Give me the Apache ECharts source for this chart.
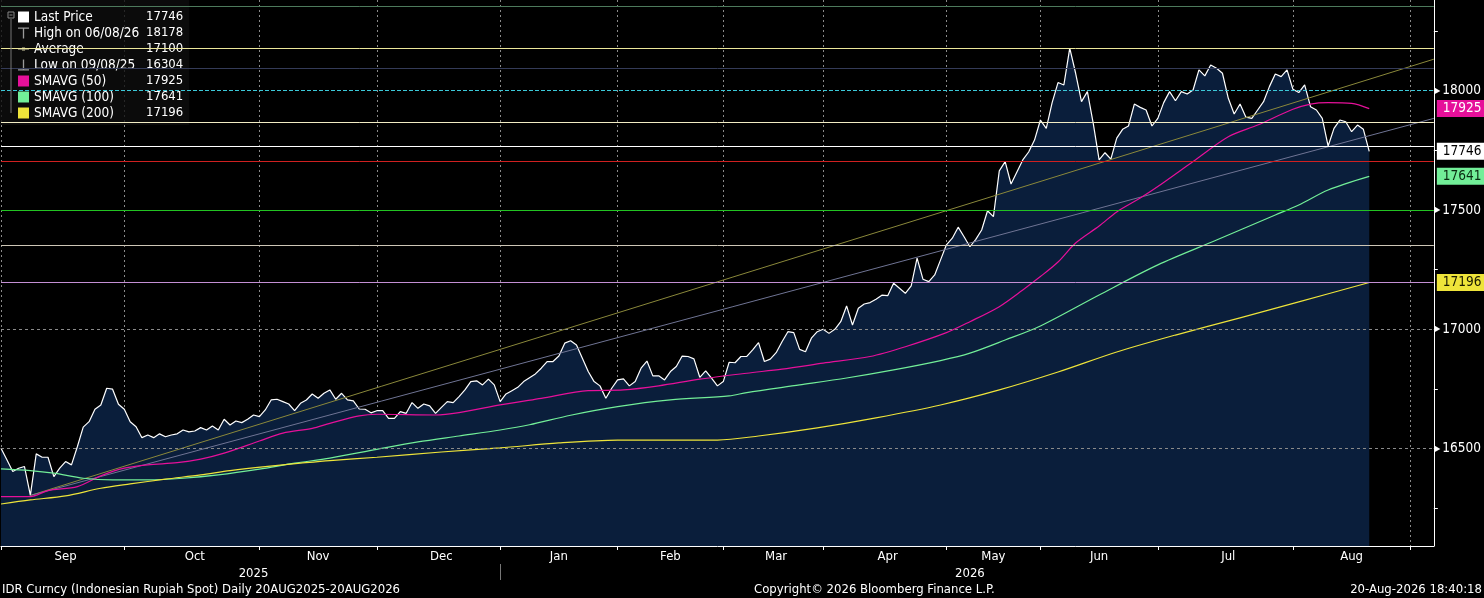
<!DOCTYPE html>
<html>
<head>
<meta charset="utf-8">
<title>IDR Curncy</title>
<script src="https://cdn.jsdelivr.net/npm/echarts@6/dist/echarts.min.js"></script>
<style>
  html, body { margin: 0; padding: 0; background: #000; }
  #chart { width: 1484px; height: 598px; }
</style>
</head>
<body>
<div id="chart"></div>
<script>
// trading calendar: weekdays from 29 Aug 2025 to 4 Sep 2026 minus these holidays
var holidays = ['2025-09-05', '2025-12-25', '2025-12-26', '2026-01-01', '2026-01-16',
  '2026-02-16', '2026-02-17', '2026-03-18', '2026-03-19', '2026-03-20', '2026-03-23',
  '2026-03-24', '2026-04-03', '2026-05-01', '2026-05-14', '2026-05-15', '2026-05-27',
  '2026-05-28', '2026-06-01', '2026-06-16', '2026-08-17'];
var monthNames = ['Jan', 'Feb', 'Mar', 'Apr', 'May', 'Jun', 'Jul', 'Aug', 'Sep', 'Oct', 'Nov', 'Dec'];

// daily close, one value per trading day from 29 Aug 2025
var lastPrice = [16502, 16453, 16404, 16418, 16425, 16304, 16478, 16464, 16464, 16383,
  16418, 16446, 16432, 16508, 16590, 16613, 16665, 16683, 16753, 16749,
  16686, 16665, 16613, 16592, 16546, 16557, 16546, 16562, 16550, 16557,
  16562, 16578, 16570, 16574, 16588, 16578, 16595, 16578, 16623, 16599,
  16616, 16609, 16623, 16641, 16634, 16662, 16704, 16707, 16697, 16687,
  16659, 16690, 16704, 16729, 16711, 16732, 16746, 16707, 16732, 16704,
  16700, 16666, 16665, 16650, 16659, 16659, 16627, 16627, 16655, 16648,
  16693, 16669, 16687, 16679, 16648, 16673, 16697, 16693, 16718, 16746,
  16781, 16784, 16767, 16791, 16767, 16697, 16729, 16743, 16757, 16781,
  16797, 16813, 16837, 16865, 16865, 16888, 16942, 16952, 16934, 16879,
  16823, 16781, 16763, 16711, 16753, 16788, 16792, 16763, 16781, 16837,
  16867, 16805, 16805, 16788, 16823, 16844, 16888, 16886, 16876, 16799,
  16826, 16795, 16763, 16781, 16862, 16860, 16886, 16887, 16914, 16944,
  16865, 16875, 16902, 16948, 16990, 16986, 16916, 16906, 16963, 16990,
  17000, 16983, 17000, 17032, 17098, 17018, 17088, 17106, 17112, 17126,
  17143, 17141, 17193, 17172, 17151, 17182, 17298, 17210, 17200, 17228,
  17291, 17354, 17382, 17428, 17388, 17346, 17377, 17416, 17497, 17472,
  17664, 17703, 17609, 17659, 17710, 17743, 17793, 17877, 17842, 17950,
  18034, 18024, 18178, 18073, 17954, 17996, 17863, 17710, 17740, 17713,
  17801, 17838, 17852, 17944, 17930, 17919, 17852, 17884, 17950, 17996,
  17958, 17996, 17986, 18003, 18087, 18062, 18108, 18094, 18073, 17968,
  17902, 17944, 17889, 17884, 17919, 17954, 18017, 18070, 18059, 18087,
  18006, 17992, 18024, 17933, 17919, 17884, 17768, 17842, 17877, 17870,
  17828, 17856, 17838, 17746];

// moving averages: [trading day index, value]
var sma50 = [[0, 16299], [5, 16299], [8, 16324], [13, 16341], [17, 16386], [21, 16418],
  [25, 16432], [30, 16441], [34, 16456], [38, 16481], [44, 16532], [48, 16565], [53, 16585],
  [56, 16606], [61, 16637], [64, 16644], [74, 16641], [78, 16651], [85, 16683], [92, 16711],
  [100, 16743], [106, 16746], [112, 16763], [119, 16791], [127, 16816], [133, 16833],
  [140, 16858], [148, 16886], [154, 16927], [161, 16986], [165, 17032], [170, 17095],
  [174, 17165], [177, 17221], [180, 17282], [183, 17362], [187, 17433], [190, 17492],
  [194, 17550], [197, 17598], [203, 17703], [209, 17807], [214, 17856], [220, 17922],
  [223, 17944], [226, 17950], [230, 17947], [233, 17925]];
var sma100 = [[0, 16415], [5, 16408], [9, 16397], [14, 16376], [19, 16369], [25, 16369],
  [31, 16376], [37, 16390], [44, 16414], [50, 16439], [56, 16460], [64, 16497], [71, 16528],
  [78, 16553], [85, 16578], [90, 16600], [97, 16640], [105, 16676], [114, 16704], [124, 16721],
  [127, 16735], [136, 16767], [144, 16796], [152, 16830], [160, 16869], [165, 16900],
  [171, 16955], [177, 17014], [187, 17144], [197, 17270], [207, 17374], [217, 17479],
  [221, 17521], [226, 17584], [233, 17641]];
var sma200 = [[0, 16268], [5, 16285], [11, 16302], [17, 16334], [22, 16352], [28, 16372],
  [34, 16390], [39, 16408], [45, 16425], [51, 16439], [56, 16450], [64, 16464], [75, 16486],
  [85, 16503], [95, 16524], [105, 16536], [122, 16536], [129, 16553], [139, 16587],
  [149, 16629], [160, 16683], [170, 16746], [180, 16821], [190, 16905], [200, 16976],
  [211, 17048], [221, 17115], [233, 17196]];

// trend lines drawn from the low
var trendUpper = [[5, 16304], [244, 18132]];
var trendLower = [[5, 16304], [244, 17884]];

// horizontal levels
var levelValues = [18352, 18178, 18094, 18000, 17868, 17768, 17705, 17500, 17353, 17198, 17000, 16500];
var levelColors = ['#4d7a5c', '#ece79a', '#343b58', '#3cc8d8', '#f2ecc4', '#ffffff', '#d02020',
  '#22c322', '#cdc6b6', '#c48fd4', '#8a8a8a', '#8a8a8a'];
var levelTypes = ['solid', 'solid', 'solid', 'dashed', 'solid', 'solid', 'solid', 'solid',
  'solid', 'solid', [3, 3], [3, 3]];

var yMajorTicks = [16500, 17000, 17500, 18000];
var yMinorTicks = [16250, 16500, 16750, 17000, 17250, 17500, 17750, 18000, 18250];

var legendNames = ['Last Price', 'High on 06/08/26', 'Average', 'Low on 09/08/25',
  'SMAVG (50)', 'SMAVG (100)', 'SMAVG (200)'];
var legendValues = ['17746', '18178', '17100', '16304', '17925', '17641', '17196'];

var FONT = '"DejaVu Sans Condensed", "Liberation Sans Narrow", "DejaVu Sans", sans-serif';
var PINK = '#e6109a';
var GREEN = '#72ee98';
var YELLOW = '#eee43a';

function buildDays() {
  var days = [];
  var d = new Date(Date.UTC(2025, 7, 29));
  var end = Date.UTC(2026, 8, 4);
  while (d.getTime() <= end) {
    var wd = d.getUTCDay();
    var s = d.toISOString().slice(0, 10);
    if (wd !== 0 && wd !== 6 && holidays.indexOf(s) < 0) {
      days.push(s);
    }
    d.setUTCDate(d.getUTCDate() + 1);
  }
  return days;
}

var days = buildDays();

// last trading day of each month -> gridline
var boundary = {};
var boundaryList = [];
days.forEach(function (s, i) {
  if (i === 0 || (i < days.length - 1 && days[i + 1].slice(5, 7) !== s.slice(5, 7))) {
    boundary[i] = true;
    boundaryList.push(i);
  }
});
var monthLabelAt = {};
for (var k = 1; k < boundaryList.length; k++) {
  monthLabelAt[Math.round((boundaryList[k - 1] + boundaryList[k]) / 2)] = true;
}
var yearSep = days.indexOf('2025-12-31');
var yearLabelAt = {};
yearLabelAt[Math.round(yearSep / 2)] = true;
yearLabelAt[Math.round((yearSep + days.length - 1) / 2)] = true;

var legendIcons = {
  'Last Price': 'rect',
  'High on 06/08/26': 'path://M0,0 L10,0 L10,1.2 L5.6,1.2 L5.6,10 L4.4,10 L4.4,1.2 L0,1.2 Z',
  'Average': 'path://M0,4.4 L10,4.4 L10,5.6 L0,5.6 Z M3.6,3.4 L6.4,3.4 L6.4,6.6 L3.6,6.6 Z',
  'Low on 09/08/25': 'path://M4.4,0 L5.6,0 L5.6,8.8 L10,8.8 L10,10 L0,10 L0,8.8 L4.4,8.8 Z',
  'SMAVG (50)': 'rect',
  'SMAVG (100)': 'rect',
  'SMAVG (200)': 'rect'
};
var legendColors = {
  'Last Price': '#ffffff',
  'High on 06/08/26': '#9a9a9a',
  'Average': '#8e8c70',
  'Low on 09/08/25': '#9a9a9a',
  'SMAVG (50)': PINK,
  'SMAVG (100)': GREEN,
  'SMAVG (200)': YELLOW
};

function tag(value, bg, fg) {
  return {
    yAxis: value,
    lineStyle: { color: 'rgba(0,0,0,0)', width: 0 },
    label: {
      show: true,
      position: 'end',
      distance: 3,
      formatter: String(value),
      backgroundColor: bg,
      color: fg,
      fontSize: 13.5,
      fontFamily: FONT,
      padding: [2, 8, 1, 6]
    }
  };
}

var levelLines = levelValues.map(function (v, i) {
  return {
    yAxis: v,
    lineStyle: { color: levelColors[i], type: levelTypes[i], width: 1 }
  };
});
levelLines.push(tag(17746, '#ffffff', '#000000'));

function maSeries(name, data, color, tagValue, tagFg) {
  return {
    name: name,
    type: 'line',
    data: data,
    showSymbol: false,
    smooth: 0.3,
    lineStyle: { color: color, width: 1.2 },
    itemStyle: { color: color },
    z: 4,
    markLine: {
      silent: true,
      symbol: 'none',
      data: [tag(tagValue, color, tagFg)]
    }
  };
}

var chart = echarts.init(document.getElementById('chart'));

var footStyle = { color: '#ffffff', fontSize: 13, fontWeight: 'normal', fontFamily: FONT };

var option = {
  backgroundColor: '#000000',
  animation: false,
  textStyle: { fontFamily: FONT },
  title: [
    { text: 'IDR Curncy (Indonesian Rupiah Spot) Daily 20AUG2025-20AUG2026', left: 2, top: 583, padding: 0, textStyle: footStyle },
    { text: 'Copyright\u00a9 2026 Bloomberg Finance L.P.', left: 754, top: 583, padding: 0, textStyle: footStyle },
    { text: '20-Aug-2026 18:40:18', right: 2, top: 583, padding: 0, textStyle: footStyle }
  ],
  legend: {
    orient: 'vertical',
    left: 0,
    top: 0,
    selectedMode: false,
    padding: [10, 6, 5, 18],
    itemGap: 2,
    itemWidth: 11,
    itemHeight: 11,
    backgroundColor: 'rgba(14,14,14,0.8)',
    data: legendNames.map(function (n) {
      return { name: n, icon: legendIcons[n], itemStyle: { color: legendColors[n] } };
    }),
    formatter: function (name) {
      return '{n|' + name + '}{v|' + legendValues[legendNames.indexOf(name)] + '}';
    },
    textStyle: {
      color: '#ffffff',
      fontSize: 13.5,
      rich: {
        n: { width: 112, color: '#ffffff', fontSize: 13.5, height: 14, lineHeight: 14, fontFamily: FONT },
        v: { color: '#ffffff', fontSize: 13, height: 14, lineHeight: 14, fontFamily: FONT }
      }
    }
  },
  graphic: [
    { type: 'rect', shape: { x: 8, y: 12, width: 6, height: 6 }, style: { fill: 'none', stroke: '#888', lineWidth: 1 }, z: 100 },
    { type: 'line', shape: { x1: 9.5, y1: 15, x2: 12.5, y2: 15 }, style: { stroke: '#888', lineWidth: 1 }, z: 100 },
    { type: 'line', shape: { x1: 11, y1: 19, x2: 11, y2: 113 }, style: { stroke: '#777', lineWidth: 1 }, z: 100 }
  ],
  grid: { left: 1, right: 48, top: 0, bottom: 52, containLabel: false },
  xAxis: [
    {
      type: 'category',
      data: days,
      boundaryGap: false,
      axisLine: { onZero: false, lineStyle: { color: '#ffffff', width: 1 } },
      axisTick: {
        interval: function (i) { return boundary[i] === true; },
        length: 4,
        lineStyle: { color: '#ffffff' }
      },
      axisLabel: {
        interval: function (i) { return monthLabelAt[i] === true; },
        formatter: function (v) { return monthNames[parseInt(v.slice(5, 7), 10) - 1]; },
        color: '#ffffff',
        fontSize: 13,
        margin: 4
      },
      splitLine: {
        show: true,
        interval: function (i) { return boundary[i] === true; },
        lineStyle: { color: '#8a8a8a', type: [2, 3], width: 1 }
      }
    },
    {
      type: 'category',
      data: days,
      boundaryGap: false,
      position: 'bottom',
      offset: 18,
      axisLine: { show: false },
      axisTick: {
        show: true,
        interval: function (i) { return i === yearSep; },
        length: 16,
        lineStyle: { color: '#777777' }
      },
      axisLabel: {
        interval: function (i) { return yearLabelAt[i] === true; },
        formatter: function (v) { return v.slice(0, 4); },
        color: '#ffffff',
        fontSize: 13,
        margin: 3
      },
      splitLine: { show: false }
    }
  ],
  yAxis: {
    type: 'value',
    position: 'right',
    min: 16092,
    max: 18380,
    axisLine: { show: true, lineStyle: { color: '#ffffff', width: 1 } },
    axisTick: {
      show: true,
      customValues: yMinorTicks,
      length: 4,
      lineStyle: { color: '#ffffff' }
    },
    axisLabel: {
      customValues: yMajorTicks,
      margin: 1,
      formatter: function (v) { return '{t|\u25B6}{v|' + v + '}'; },
      rich: {
        t: { fontSize: 8, color: '#ffffff', padding: [0, 2, 0, 0] },
        v: { fontSize: 13.5, color: '#ffffff', fontFamily: FONT }
      }
    },
    splitLine: { show: false }
  },
  series: [
    {
      name: 'Last Price',
      type: 'line',
      data: lastPrice,
      showSymbol: false,
      lineStyle: { color: '#ffffff', width: 1.2 },
      itemStyle: { color: '#ffffff' },
      areaStyle: { color: '#0a1e3b', opacity: 1 },
      z: 2,
      markLine: {
        silent: true,
        symbol: 'none',
        label: { show: false },
        data: levelLines
      }
    },
    { name: 'High on 06/08/26', type: 'line', data: [] },
    { name: 'Average', type: 'line', data: [] },
    { name: 'Low on 09/08/25', type: 'line', data: [] },
    {
      name: 'trend upper',
      type: 'line',
      data: trendUpper,
      showSymbol: false,
      lineStyle: { color: '#8a883a', width: 1 },
      z: 3
    },
    {
      name: 'trend lower',
      type: 'line',
      data: trendLower,
      showSymbol: false,
      lineStyle: { color: '#6f7494', width: 1 },
      z: 3
    },
    maSeries('SMAVG (50)', sma50, PINK, 17925, '#ffffff'),
    maSeries('SMAVG (100)', sma100, GREEN, 17641, '#0a2a10'),
    maSeries('SMAVG (200)', sma200, YELLOW, 17196, '#1a1a00')
  ]
};

chart.setOption(option);
</script>
</body>
</html>
